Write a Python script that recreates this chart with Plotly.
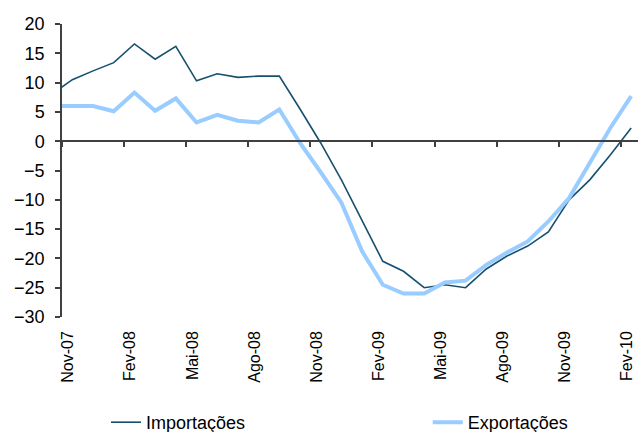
import plotly.graph_objects as go

months = ["Out-07", "Nov-07", "Dez-07", "Jan-08", "Fev-08", "Mar-08", "Abr-08", "Mai-08",
          "Jun-08", "Jul-08", "Ago-08", "Set-08", "Out-08", "Nov-08", "Dez-08", "Jan-09",
          "Fev-09", "Mar-09", "Abr-09", "Mai-09", "Jun-09", "Jul-09", "Ago-09", "Set-09",
          "Out-09", "Nov-09", "Dez-09", "Jan-10", "Fev-10"]

importacoes = [8.0, 10.5, 12.0, 13.4, 16.6, 14.0, 16.2, 10.3, 11.5, 10.9, 11.1, 11.1, 5.5,
               -0.3, -6.6, -13.5, -20.5, -22.2, -25.0, -24.5, -25.0, -21.8, -19.6, -17.9,
               -15.5, -10.0, -6.6, -2.3, 2.25]

exportacoes = [6.0, 6.0, 6.0, 5.1, 8.3, 5.2, 7.3, 3.2, 4.5, 3.5, 3.2, 5.4, -0.3,
               -5.3, -10.5, -18.8, -24.5, -26.0, -26.0, -24.1, -23.8, -21.1, -19.0, -17.1,
               -13.7, -9.7, -3.7, 2.3, 7.7]

tick_labels = ["Nov-07", "Fev-08", "Mai-08", "Ago-08", "Nov-08", "Fev-09", "Mai-09",
               "Ago-09", "Nov-09", "Fev-10"]
y_ticks = [20, 15, 10, 5, 0, -5, -10, -15, -20, -25, -30]

FONT = "Liberation Sans, Arial, sans-serif"
x_range = [0.5, 28.33]
idx = list(range(len(months)))
boundary_ticks = [months.index(t) - 0.5 for t in tick_labels]
label_pos = [months.index(t) - 0.2 for t in tick_labels]

fig = go.Figure()
fig.add_trace(go.Scatter(x=idx, y=importacoes, mode="lines", legend="legend",
                         name="Importações", line=dict(color="#17506E", width=1.6)))
fig.add_trace(go.Scatter(x=idx, y=exportacoes, mode="lines", legend="legend2",
                         name="Exportações", line=dict(color="#99CCFF", width=4)))
# helper trace for the zero axis with ticks
fig.add_trace(go.Scatter(x=[idx[1]], y=[0], xaxis="x2", mode="lines",
                         showlegend=False, hoverinfo="skip", line=dict(width=0)))

leg_common = dict(orientation="h", y=-0.36, yanchor="middle", xanchor="left",
                  font=dict(size=18, family=FONT, color="black"),
                  bgcolor="rgba(0,0,0,0)", borderwidth=0)

fig.update_layout(
    width=638, height=432,
    margin=dict(l=62, r=0, t=24, b=115, autoexpand=False),
    paper_bgcolor="white", plot_bgcolor="white",
    font=dict(family=FONT, color="black"),
    showlegend=True,
    legend=dict(x=0.0764, **leg_common),
    legend2=dict(x=0.635, **leg_common),
    xaxis=dict(range=x_range, tickmode="array",
               tickvals=label_pos, ticktext=tick_labels,
               tickangle=-90, showgrid=False, zeroline=False, showline=False, ticks="",
               tickfont=dict(size=16, family=FONT), ticklabelstandoff=10,
               ticklabeloverflow="allow", automargin=False),
    xaxis2=dict(range=x_range, overlaying="x", anchor="free", position=0.6, side="bottom",
                showline=True, linecolor="#404040", linewidth=1.5, ticks="outside",
                ticklen=5, tickcolor="#404040", tickwidth=1.5, tickmode="array",
                tickvals=boundary_ticks, showticklabels=False, showgrid=False,
                zeroline=False, automargin=False),
    yaxis=dict(range=[-30, 20], tickmode="array", tickvals=y_ticks, showgrid=False,
               zeroline=False, showline=True, linecolor="#404040", linewidth=1.5,
               ticks="outside", ticklen=5, tickcolor="#404040", tickwidth=1.5,
               tickfont=dict(size=18, family=FONT), ticklabelstandoff=7, automargin=False),
)

fig.write_html("out.html", config={"displayModeBar": False},
               post_script="document.body.style.margin='0';document.body.style.overflow='hidden';")
